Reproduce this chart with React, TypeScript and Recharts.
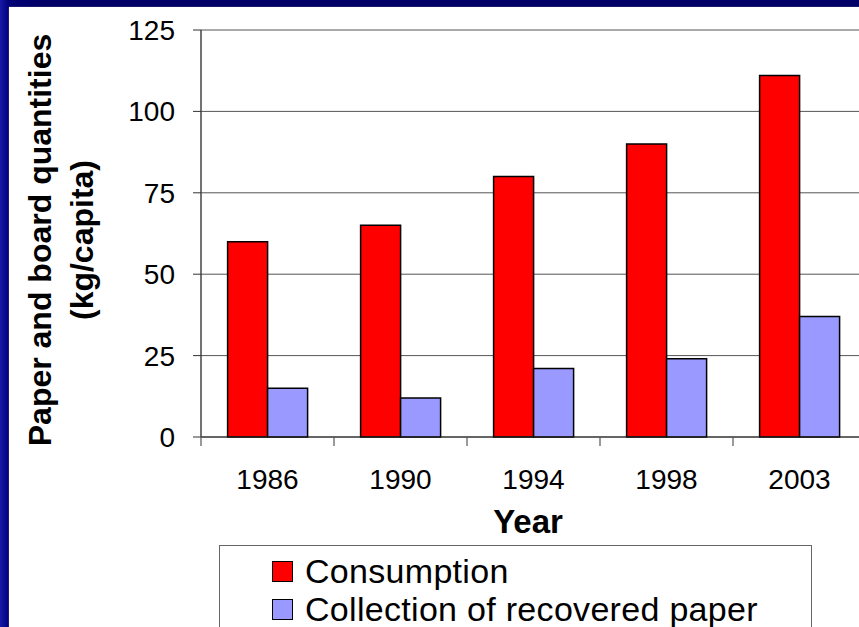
import React from "react";
import {
  BarChart,
  Bar,
  XAxis,
  YAxis,
  CartesianGrid,
  Legend,
} from "recharts";

const years = ["1986", "1990", "1994", "1998", "2003"];
const consumption = [60, 65, 80, 90, 111];
const collection = [15, 12, 21, 24, 37];
const yTicks = [0, 25, 50, 75, 100, 125];
const seriesNames = ["Consumption", "Collection of recovered paper"];
const seriesColors = ["#FF0000", "#9999FF"];

const data = years.map((year, i) => ({
  year,
  consumption: consumption[i],
  collection: collection[i],
}));

const FONT = "'Liberation Sans', Arial, Helvetica, sans-serif";

const XTick = (props: any) => {
  const { x, y, payload, index } = props;
  const half = payload && payload.offset ? payload.offset : 66.5;
  return (
    <g>
      <line x1={x - half} x2={x - half} y1={y} y2={y + 9} stroke="#555" strokeWidth={1.2} />
      {index === years.length - 1 && (
        <line x1={x + half} x2={x + half} y1={y} y2={y + 9} stroke="#555" strokeWidth={1.2} />
      )}
      <text x={x} y={y + 52} textAnchor="middle" fontSize={28} fontFamily={FONT} fill="#000">
        {payload.value}
      </text>
    </g>
  );
};

const YTitle = (props: any) => {
  const vb = props.viewBox || { x: 0, y: 30, width: 201, height: 407 };
  const cy = vb.y + vb.height / 2 + 6.5;
  return (
    <g>
      <text
        transform={`translate(51, ${cy}) rotate(-90)`}
        textAnchor="middle"
        fontSize={32}
        fontWeight="bold"
        fontFamily={FONT}
        fill="#000"
      >
        Paper and board quantities
      </text>
      <text
        transform={`translate(93, ${cy}) rotate(-90)`}
        textAnchor="middle"
        fontSize={32}
        fontWeight="bold"
        fontFamily={FONT}
        fill="#000"
      >
        (kg/capita)
      </text>
    </g>
  );
};

const XTitle = (props: any) => {
  const vb = props.viewBox || { x: 201, y: 437, width: 665, height: 30 };
  return (
    <text
      x={528}
      y={vb.y + 96}
      textAnchor="middle"
      fontSize={33}
      fontWeight="bold"
      fontFamily={FONT}
      fill="#000"
    >
      Year
    </text>
  );
};

const LegendBox = (props: any) => {
  const payload = [...(props.payload || [])].sort(
    (a: any, b: any) => seriesNames.indexOf(a.value) - seriesNames.indexOf(b.value)
  );
  return (
    <div
      style={{
        width: "100%",
        height: "100%",
        boxSizing: "border-box",
        border: "1.5px solid #666",
        background: "#fff",
        paddingLeft: 52,
        paddingTop: 6,
        fontFamily: FONT,
        fontSize: 34,
        letterSpacing: 0.3,
        color: "#000",
      }}
    >
      {payload.map((p: any, i: number) => (
        <div key={i} style={{ display: "flex", alignItems: "center", height: 38 }}>
          <span
            style={{
              display: "inline-block",
              width: 21,
              height: 21,
              flexShrink: 0,
              boxSizing: "border-box",
              border: "1.5px solid #000",
              background: p.color,
              marginRight: 12,
            }}
          />
          <span style={{ lineHeight: "38px", whiteSpace: "nowrap" }}>{p.value}</span>
        </div>
      ))}
    </div>
  );
};

export default function App() {
  return (
    <div
      style={{
        position: "fixed",
        left: 0,
        top: 0,
        width: 859,
        height: 627,
        overflow: "hidden",
        background: "linear-gradient(to right, #1818a8 0px, #000078 9px, #000066 40px)",
      }}
    >
      <div
        style={{
          position: "absolute",
          left: 9,
          top: 7,
          width: 860,
          height: 630,
          background: "#fff",
          boxShadow: "0 0 1px #999",
        }}
      />
      <div style={{ position: "absolute", left: 0, top: 0 }}>
        <BarChart
          width={900}
          height={627}
          data={data}
          margin={{ top: 30, right: 34, left: 0, bottom: 160 }}
          barCategoryGap="20%"
          barGap={0}
        >
          <CartesianGrid vertical={false} stroke="#555" strokeWidth={1} />
          <XAxis
            dataKey="year"
            height={30}
            tickLine={false}
            tickSize={0}
            tickMargin={0}
            axisLine={{ stroke: "#222", strokeWidth: 1.2 }}
            tick={<XTick />}
            interval={0}
            label={<XTitle />}
          />
          <YAxis
            width={201}
            domain={[0, 125]}
            ticks={yTicks}
            interval={0}
            tickSize={8}
            tickMargin={18}
            tickLine={{ stroke: "#333" }}
            axisLine={{ stroke: "#444", strokeWidth: 1.5 }}
            tick={{ fontSize: 28, fontFamily: FONT, fill: "#000" }}
            label={<YTitle />}
          />
          <Legend
            layout="vertical"
            align="center"
            verticalAlign="middle"
            content={<LegendBox />}
            wrapperStyle={{ position: "absolute", left: 219, top: 545, width: 593, height: 110 }}
          />
          <Bar
            dataKey="consumption"
            name={seriesNames[0]}
            fill={seriesColors[0]}
            stroke="#000"
            strokeWidth={1.5}
            isAnimationActive={false}
          />
          <Bar
            dataKey="collection"
            name={seriesNames[1]}
            fill={seriesColors[1]}
            stroke="#000"
            strokeWidth={1.5}
            isAnimationActive={false}
          />
        </BarChart>
      </div>
    </div>
  );
}
